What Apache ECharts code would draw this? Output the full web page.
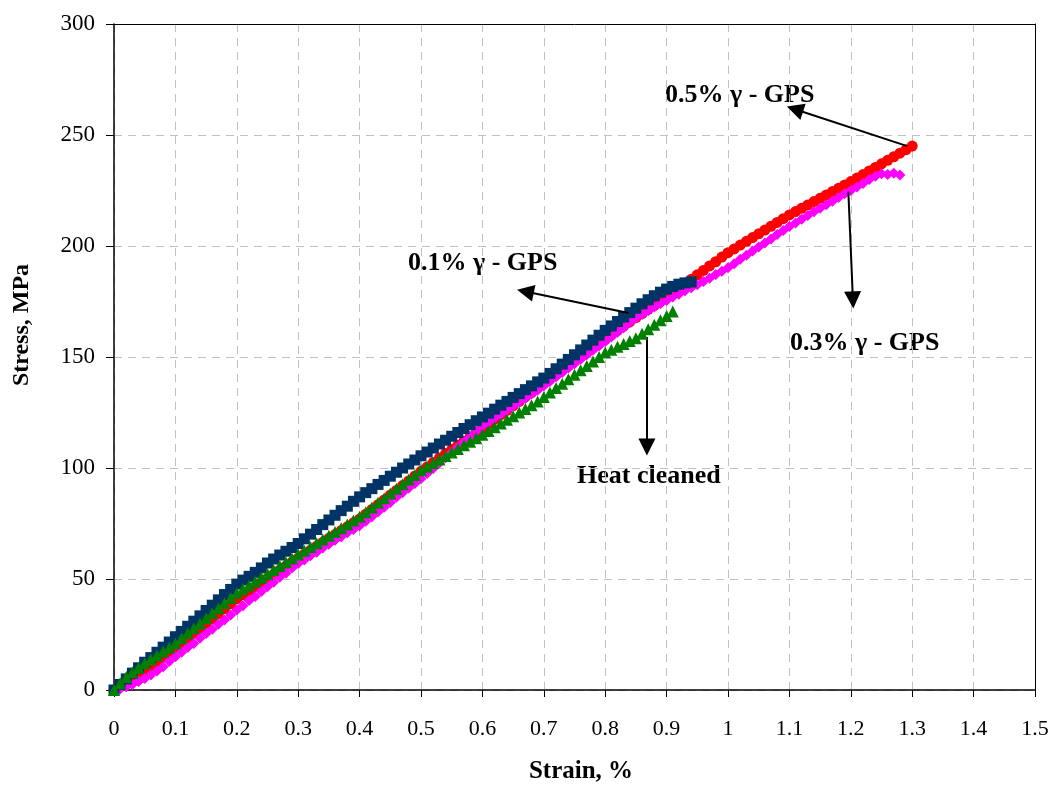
<!DOCTYPE html>
<html>
<head>
<meta charset="utf-8">
<script src="https://cdn.jsdelivr.net/npm/echarts@6/dist/echarts.min.js"></script>
<style>
html,body{margin:0;padding:0;background:#fff;}
#chart{width:1053px;height:785px;}
</style>
</head>
<body>
<div id="chart"></div>
<script>
// Strain (%) values for each series, and stress (MPa)
var strainRed = [0,0.01,0.02,0.03,0.04,0.05,0.06,0.07,0.08,0.09,0.1,0.11,0.12,0.13,0.14,0.15,0.16,0.17,0.18,0.19,0.2,0.21,0.22,0.23,0.24,0.25,0.26,0.27,0.28,0.29,0.3,0.31,0.32,0.33,0.34,0.35,0.36,0.37,0.38,0.39,0.4,0.41,0.42,0.43,0.44,0.45,0.46,0.47,0.48,0.49,0.5,0.51,0.52,0.53,0.54,0.55,0.56,0.57,0.58,0.59,0.6,0.61,0.62,0.63,0.64,0.65,0.66,0.67,0.68,0.69,0.7,0.71,0.72,0.73,0.74,0.75,0.76,0.77,0.78,0.79,0.8,0.81,0.82,0.83,0.84,0.85,0.86,0.87,0.88,0.89,0.9,0.91,0.92,0.93,0.94,0.95,0.96,0.97,0.98,0.99,1,1.01,1.02,1.03,1.04,1.05,1.06,1.07,1.08,1.09,1.1,1.11,1.12,1.13,1.14,1.15,1.16,1.17,1.18,1.19,1.2,1.21,1.22,1.23,1.24,1.25,1.26,1.27,1.28,1.29,1.3];
var stressRed = [0,1.8,3.6,5.3,7.1,8.9,10.8,12.8,14.8,16.9,19,21.2,23.4,25.6,27.8,30,32.2,34.4,36.6,38.8,41,42.9,44.8,46.6,48.5,50.3,52.1,54,55.8,57.7,59.5,61.3,63,64.8,66.5,68.3,70,71.8,73.5,75.3,77,79.2,81.3,83.5,85.6,87.8,89.9,92.1,94.2,96.4,98.5,100.5,102.5,104.5,106.5,108.3,110.2,112.1,114.1,116,118,120,122,124,126,128,130,132,134,136,138,140,142,144,146,148,150,152,154,156,158,160,162,163.9,165.8,167.7,169.6,171.5,173.3,175.2,177,179,181,183,185,187,189,191,192.9,195,197,198.7,200.4,202.1,203.8,205.5,207.2,208.9,210.6,212.3,214,215.5,217,218.5,220,221.5,223,224.5,226,227.5,229,230.6,232.2,233.8,235.4,237,238.6,240.2,241.8,243.4,245];

var strainMag = [0,0.01,0.02,0.03,0.04,0.05,0.06,0.07,0.08,0.09,0.1,0.11,0.12,0.13,0.14,0.15,0.16,0.17,0.18,0.19,0.2,0.21,0.22,0.23,0.24,0.25,0.26,0.27,0.28,0.29,0.3,0.31,0.32,0.33,0.34,0.35,0.36,0.37,0.38,0.39,0.4,0.41,0.42,0.43,0.44,0.45,0.46,0.47,0.48,0.49,0.5,0.51,0.52,0.53,0.54,0.55,0.56,0.57,0.58,0.59,0.6,0.61,0.62,0.63,0.64,0.65,0.66,0.67,0.68,0.69,0.7,0.71,0.72,0.73,0.74,0.75,0.76,0.77,0.78,0.79,0.8,0.81,0.82,0.83,0.84,0.85,0.86,0.87,0.88,0.89,0.9,0.91,0.92,0.93,0.94,0.95,0.96,0.97,0.98,0.99,1,1.01,1.02,1.03,1.04,1.05,1.06,1.07,1.08,1.09,1.1,1.11,1.12,1.13,1.14,1.15,1.16,1.17,1.18,1.19,1.2,1.21,1.22,1.23,1.24,1.25,1.26,1.27,1.28];
var stressMag = [0,0.5,1.5,2.5,3.8,5.2,6.8,8.6,10.5,12.8,15,17,19.2,21,23.3,25.5,27.4,29.6,31.5,33.8,36,38,40.3,42.1,44.4,46.5,48.5,50.8,52.6,55,57,58.6,60.5,62.1,64,65.6,67.4,69,70.8,72.3,74,76,78,80.2,82.3,84.5,86.8,88.8,91,93,95.2,97.5,99.8,102.2,104.6,107,109.3,111.8,114,116.4,118.8,120.6,122.5,124.2,126.1,127.8,129.7,131.4,133.3,135,137,139,141.1,143,145,147,149,151,153,155,157,159,161.2,163.2,165.4,167.5,169.2,170.8,172.5,174,175.5,177,178.3,179.8,181.2,182.5,184,185.5,187.2,188.6,190.2,192,194,195.8,197.7,199.5,201.4,203.2,205.2,207,208.8,210.4,212,213.7,215.4,217,218.6,220.2,221.8,223.5,225,226.6,228.2,229.9,231.4,232.6,232.2,232.8,232];

var strainNavy = [0,0.01,0.02,0.03,0.04,0.05,0.06,0.07,0.08,0.09,0.1,0.11,0.12,0.13,0.14,0.15,0.16,0.17,0.18,0.19,0.2,0.21,0.22,0.23,0.24,0.25,0.26,0.27,0.28,0.29,0.3,0.31,0.32,0.33,0.34,0.35,0.36,0.37,0.38,0.39,0.4,0.41,0.42,0.43,0.44,0.45,0.46,0.47,0.48,0.49,0.5,0.51,0.52,0.53,0.54,0.55,0.56,0.57,0.58,0.59,0.6,0.61,0.62,0.63,0.64,0.65,0.66,0.67,0.68,0.69,0.7,0.71,0.72,0.73,0.74,0.75,0.76,0.77,0.78,0.79,0.8,0.81,0.82,0.83,0.84,0.85,0.86,0.87,0.88,0.89,0.9,0.91,0.92,0.93,0.94];
var stressNavy = [0,2.5,5,7.6,10,12.5,14.6,17,19.3,21.6,24,26.4,28.7,31,33.4,35.8,38.2,40.6,43,45.3,47.7,49.5,51.2,53,55,57.2,59,60.8,62.5,64.2,66,68.1,70.2,72.3,74.5,76.6,78.7,80.8,82.8,85,87,88.9,90.7,92.6,94.4,96.3,98.1,100,101.8,103.6,105.5,107.2,109,110.8,112.5,114.3,116,117.8,119.5,121.3,123,124.7,126.5,128.3,130,131.8,133.5,135.3,137,138.8,140.5,142.6,144.7,146.8,148.9,151,153.2,155.4,157.6,159.8,162,164,166,168,170,172,174,175.8,177.6,179.2,180.6,181.8,182.8,183.4,183.8];

var strainGreen = [0,0.01,0.02,0.03,0.04,0.05,0.06,0.07,0.08,0.09,0.1,0.11,0.12,0.13,0.14,0.15,0.16,0.17,0.18,0.19,0.2,0.21,0.22,0.23,0.24,0.25,0.26,0.27,0.28,0.29,0.3,0.31,0.32,0.33,0.34,0.35,0.36,0.37,0.38,0.39,0.4,0.41,0.42,0.43,0.44,0.45,0.46,0.47,0.48,0.49,0.5,0.51,0.52,0.53,0.54,0.55,0.56,0.57,0.58,0.59,0.6,0.61,0.62,0.63,0.64,0.65,0.66,0.67,0.68,0.69,0.7,0.71,0.72,0.73,0.74,0.75,0.76,0.77,0.78,0.79,0.8,0.81,0.82,0.83,0.84,0.85,0.86,0.87,0.88,0.89,0.9,0.91];
var stressGreen = [0,3,5.8,8,10,12,13.8,15.5,17.3,19.1,21,23.3,25.6,27.8,30,32.3,34.6,36.8,39.1,41.4,43.7,45.4,47.1,48.9,50.6,52.3,54,55.8,57.5,59.2,61,62.7,64.4,66.1,67.8,69.5,71.2,72.9,74.6,76.3,78,80.1,82.2,84.3,86.4,88.5,90.6,92.7,94.8,96.9,99,100.6,102.2,103.8,105.4,107,108.6,110.2,111.8,113.4,115,116.7,118.4,120,121.7,123.3,125,126.6,128.3,130,132,134,136,138,140,142,144,146,148,150,152,153.3,154.6,155.9,157.2,158.5,160.5,162.5,164.5,166.5,168.5,170.5];

var seriesNames = ['0.5% γ - GPS', '0.3% γ - GPS', '0.1% γ - GPS', 'Heat cleaned'];
var xTitle = 'Strain, %';
var yTitle = 'Stress, MPa';
var xTicks = [0,0.1,0.2,0.3,0.4,0.5,0.6,0.7,0.8,0.9,1,1.1,1.2,1.3,1.4,1.5];
var yTicks = [0,50,100,150,200,250,300];

// annotation arrows in data units: [fromStrain, fromStress, toStrain, toStress]
var arrows = [
  [1.292, 245, 1.109, 261.6],
  [0.838, 169.8, 0.670, 179.5],
  [0.868, 159, 0.868, 109.5],
  [1.196, 224.5, 1.2035, 175.7]
];

function pairs(xs, ys){ var out=[]; for(var i=0;i<xs.length;i++){ out.push([xs[i], ys[i]]); } return out; }

var chart = echarts.init(document.getElementById('chart'), null, {renderer:'canvas'});
var FONT = '"Liberation Serif","Times New Roman",serif';
var gridLine = { show: true, lineStyle: { color: '#c0c0c0', type: [8,6], width: 1 } };

var option = {
  animation: false,
  backgroundColor: '#ffffff',
  grid: { left: 114, right: 18, top: 24, bottom: 95, containLabel: false, outerBoundsMode: 'none' },
  xAxis: [{
    type: 'value', min: 0, max: 1.5, interval: 0.1,
    axisLine: { show: true, onZero: false, lineStyle: { color: '#000', width: 1.5 } },
    axisTick: { show: true, inside: false, length: 7, lineStyle: { color: '#000' } },
    axisLabel: { fontFamily: FONT, fontSize: 22, color: '#000', margin: 28,
      formatter: function(v){ var r = Math.round(v*10)/10; return xTicks.indexOf(r) >= 0 ? String(r) : ''; } },
    splitLine: gridLine
  }, {
    type: 'value', position: 'top', min: 0, max: 1.5, interval: 0.1,
    axisLine: { show: true, onZero: false, lineStyle: { color: '#000', width: 1 } },
    axisTick: { show: false }, axisLabel: { show: false }, splitLine: { show: false }
  }],
  yAxis: [{
    type: 'value', min: 0, max: 300, interval: 50,
    axisLine: { show: true, onZero: false, lineStyle: { color: '#000', width: 1.5 } },
    axisTick: { show: true, inside: false, length: 8, lineStyle: { color: '#000' } },
    axisLabel: { fontFamily: FONT, fontSize: 23, color: '#000', margin: 19,
      formatter: function(v){ return yTicks.indexOf(v) >= 0 ? String(v) : ''; } },
    splitLine: gridLine
  }, {
    type: 'value', position: 'right', min: 0, max: 300, interval: 50,
    axisLine: { show: true, onZero: false, lineStyle: { color: '#000', width: 1 } },
    axisTick: { show: false }, axisLabel: { show: false }, splitLine: { show: false }
  }],
  series: [
    { name: seriesNames[0], type: 'scatter', symbol: 'circle', symbolSize: 11,
      itemStyle: { color: '#ff0000', opacity: 1 }, data: pairs(strainRed, stressRed), z: 2 },
    { name: seriesNames[1], type: 'scatter', symbol: 'diamond', symbolSize: 11,
      itemStyle: { color: '#ff00ff', opacity: 1 }, data: pairs(strainMag, stressMag), z: 3 },
    { name: seriesNames[2], type: 'scatter', symbol: 'rect', symbolSize: 11,
      itemStyle: { color: '#003366', opacity: 1 }, data: pairs(strainNavy, stressNavy), z: 4 },
    { name: seriesNames[3], type: 'scatter', symbol: 'triangle', symbolSize: 12,
      itemStyle: { color: '#008000', opacity: 1 }, data: pairs(strainGreen, stressGreen), z: 5 },
    { name: 'arrows', type: 'scatter', data: [], z: 6,
      markLine: {
        silent: true, animation: false,
        symbol: ['none', 'triangle'], symbolSize: 17,
        label: { show: false },
        lineStyle: { color: '#000', width: 2, type: 'solid', opacity: 1 },
        itemStyle: { color: '#000' },
        data: arrows.map(function(a){ return [ { coord: [a[0], a[1]] }, { coord: [a[2], a[3]] } ]; })
      }
    }
  ],
  graphic: [
    { type: 'text', left: 665, top: 82, style: { text: seriesNames[0], font: 'bold 26px ' + FONT, fill: '#000' } },
    { type: 'text', left: 408, top: 250, style: { text: seriesNames[2], font: 'bold 26px ' + FONT, fill: '#000' } },
    { type: 'text', left: 790, top: 330, style: { text: seriesNames[1], font: 'bold 26px ' + FONT, fill: '#000' } },
    { type: 'text', left: 577, top: 463, style: { text: seriesNames[3], font: 'bold 26px ' + FONT, fill: '#000' } },
    { type: 'text', x: 581, y: 772, style: { text: xTitle, font: 'bold 25px ' + FONT, fill: '#000', align: 'center', verticalAlign: 'middle' } },
    { type: 'text', x: 22, y: 325, rotation: Math.PI / 2, style: { text: yTitle, font: 'bold 24px ' + FONT, fill: '#000', align: 'center', verticalAlign: 'middle' } }
  ]
};
chart.setOption(option);
</script>
</body>
</html>
